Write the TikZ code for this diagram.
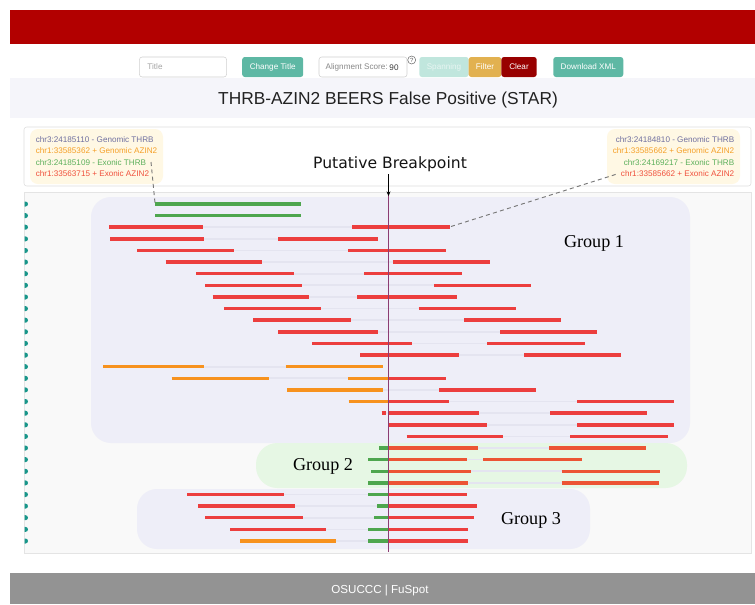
\documentclass[tikz,border=0pt]{standalone}
\usepackage{fontspec}
\setmainfont{Liberation Sans}
\newfontfamily\bpfont{DejaVu Sans}
\newfontfamily\grpfont{Liberation Serif}
\usetikzlibrary{arrows.meta}
\begin{document}
\begin{tikzpicture}[x=0.75pt,y=0.75pt,yscale=-1,xscale=1,
  rd/.style={draw={rgb,255:red,236;green,62;blue,62},line width=2.6pt},
  rdb/.style={draw={rgb,255:red,236;green,84;blue,52},line width=2.6pt},
  og/.style={draw={rgb,255:red,247;green,146;blue,30},line width=2.6pt},
  gn/.style={draw={rgb,255:red,78;green,166;blue,78},line width=2.6pt},
  gap/.style={draw={rgb,255:red,228;green,228;blue,240},line width=1.3pt},
  mk/.style={fill={rgb,255:red,24;green,150;blue,138}},
  lead/.style={draw={rgb,255:red,120;green,120;blue,120},line width=0.7pt,dash pattern={on 3pt off 2.5pt}},
  fld/.style={draw={rgb,255:red,208;green,208;blue,208},fill=white,rounded corners=2pt,minimum height=15pt,inner sep=0pt},
  btn/.style={rounded corners=2pt,minimum height=15pt,inner sep=0pt,text=white,font=\fontsize{6.1}{7}\selectfont},
  small/.style={font=\fontsize{6.1}{7}\selectfont,inner sep=0pt},
  infobox/.style={fill={rgb,255:red,255;green,248;blue,228},rounded corners=6pt,minimum width=99.75pt,minimum height=41.25pt,inner sep=0pt,font=\fontsize{6.1}{8.7}\selectfont},
  glabel/.style={font=\grpfont\fontsize{13.6}{15}\selectfont,inner sep=0pt}
]
\useasboundingbox (0,0) rectangle (755,604);

%Header bar
\fill [color={rgb, 255:red, 178; green, 0; blue, 0 }] (10,10) rectangle (755,44) ;

%Toolbar
\node (ttlbox) [fld,minimum width=65.3pt] at (183,67) {};
\node (ttltxt) [small,anchor=west,text={rgb,255:red,165;green,165;blue,165}] at ([xshift=6pt]ttlbox.west) {Title};
\node (chgbtn) [btn,fill={rgb,255:red,94;green,184;blue,164},minimum width=45.8pt] at (272.7,67) {Change Title};
\node (scorebox) [fld,minimum width=66pt] at (363,67) {};
\node (scoretxt) [small,anchor=west,text={rgb,255:red,135;green,135;blue,135}] at ([xshift=5pt]scorebox.west) {Alignment Score:};
\node (scoreval) [small,text={rgb,255:red,60;green,60;blue,60}] at (394,67.5) {90};
\node (help) [circle,draw={rgb,255:red,110;green,110;blue,110},line width=0.4pt,inner sep=0pt,minimum size=6pt,font=\fontsize{4.5}{5}\selectfont,text={rgb,255:red,90;green,90;blue,90}] at (411.7,60) {?};
\node (spanbtn) [btn,fill={rgb,255:red,192;green,230;blue,221},text={rgb,255:red,232;green,245;blue,242},minimum width=37pt] at (444,67) {Spanning};
\node (filtbtn) [btn,fill={rgb,255:red,226;green,177;blue,80},minimum width=24.5pt] at (485,67) {Filter};
\node (clrbtn) [btn,fill={rgb,255:red,152;green,0;blue,0},minimum width=26.5pt] at (519,67) {Clear};
\node (xmlbtn) [btn,fill={rgb,255:red,94;green,184;blue,164},minimum width=52.5pt] at (588.3,67) {Download XML};

%Title band
\fill [color={rgb, 255:red, 245; green, 245; blue, 250 }] (10,78) rectangle (755,118) ;
\node (title) [font=\fontsize{13}{15}\selectfont,text={rgb,255:red,34;green,34;blue,34}] at (388,100) {THRB-AZIN2 BEERS False Positive (STAR)};

%Info strip
\draw [draw={rgb, 255:red, 222; green, 222; blue, 222 },fill=white,rounded corners=2pt] (24,127) rectangle (751,186) ;
\node (linfo) [infobox,align=left] at (96.5,156.5) {\textcolor[RGB]{112,112,160}{chr3:24185110 - Genomic THRB}\\
\textcolor[RGB]{245,160,40}{chr1:33585362 + Genomic AZIN2}\\
\textcolor[RGB]{92,176,92}{chr3:24185109 - Exonic THRB}\\
\textcolor[RGB]{240,80,60}{chr1:33563715 + Exonic AZIN2}};
\node (rinfo) [infobox,align=right] at (673.5,156.5) {\textcolor[RGB]{112,112,160}{chr3:24184810 - Genomic THRB}\\
\textcolor[RGB]{245,160,40}{chr1:33585662 + Genomic AZIN2}\\
\textcolor[RGB]{92,176,92}{chr3:24169217 - Exonic THRB}\\
\textcolor[RGB]{240,80,60}{chr1:33585662 + Exonic AZIN2}};

%Reads panel
\draw [draw={rgb, 255:red, 228; green, 228; blue, 228 },fill={rgb, 255:red, 249; green, 249; blue, 249 }] (24,192) rectangle (751,553) ;
\coordinate (bptop) at (388.5,192);
\coordinate (bpbot) at (388.5,552);

%Groups
\fill [color={rgb, 255:red, 238; green, 238; blue, 248 },rounded corners=15pt] (91,197) rectangle (690,443) ;
\fill [color={rgb, 255:red, 230; green, 247; blue, 228 },rounded corners=16pt] (256,443) rectangle (687,488) ;
\fill [color={rgb, 255:red, 238; green, 238; blue, 248 },rounded corners=15pt] (137,489) rectangle (590,549) ;
\node (grp1) [glabel] at (594,243) {Group 1};
\node (grp2) [glabel] at (323,466) {Group 2};
\node (grp3) [glabel] at (531,520) {Group 3};

%Row markers
\foreach \y in {204,215.6,227.2,238.9,250.5,262.1,273.7,285.3,297,308.6,320.2,331.8,343.4,355.1,366.7,378.3,389.9,401.5,413.2,424.8,436.4,448,459.6,471.3,482.9,494.5,506.1,517.7,529.4,541}
  \fill [mk] (24.5,\y-2.5) -- (25.5,\y-2.5) arc [start angle=-90,end angle=90,radius=2.5] -- (24.5,\y+2.5) -- cycle ;

%Read rows
\draw [gn] (155,204) -- (300.7,204) ;
\draw [gn] (155,215.6) -- (300.7,215.6) ;
\draw [gap] (109,227.2) -- (450,227.2) ;
\draw [rd] (109,227.2) -- (203,227.2) (352,227.2) -- (450,227.2) ;
\draw [gap] (110,238.9) -- (377.7,238.9) ;
\draw [rd] (110,238.9) -- (203.7,238.9) (278,238.9) -- (377.7,238.9) ;
\draw [gap] (137,250.5) -- (446,250.5) ;
\draw [rd] (137,250.5) -- (234,250.5) (348,250.5) -- (446,250.5) ;
\draw [gap] (165.7,262.1) -- (490,262.1) ;
\draw [rd] (165.7,262.1) -- (261.7,262.1) (392.7,262.1) -- (490,262.1) ;
\draw [gap] (196,273.7) -- (462,273.7) ;
\draw [rd] (196,273.7) -- (294,273.7) (364,273.7) -- (462,273.7) ;
\draw [gap] (205,285.3) -- (531,285.3) ;
\draw [rd] (205,285.3) -- (301.7,285.3) (434,285.3) -- (531,285.3) ;
\draw [gap] (212.7,297) -- (456.7,297) ;
\draw [rd] (212.7,297) -- (309,297) (357,297) -- (456.7,297) ;
\draw [gap] (224,308.6) -- (516,308.6) ;
\draw [rd] (224,308.6) -- (320.7,308.6) (418.7,308.6) -- (516,308.6) ;
\draw [gap] (253,320.2) -- (561,320.2) ;
\draw [rd] (253,320.2) -- (350.7,320.2) (464,320.2) -- (561,320.2) ;
\draw [gap] (278,331.8) -- (596.7,331.8) ;
\draw [rd] (278,331.8) -- (377.7,331.8) (500,331.8) -- (596.7,331.8) ;
\draw [gap] (312,343.4) -- (584.7,343.4) ;
\draw [rd] (312,343.4) -- (412,343.4) (487,343.4) -- (584.7,343.4) ;
\draw [gap] (360,355.1) -- (621,355.1) ;
\draw [rd] (360,355.1) -- (459,355.1) (524,355.1) -- (621,355.1) ;
\draw [gap] (103,366.7) -- (382.7,366.7) ;
\draw [og] (103,366.7) -- (203.7,366.7) (285.7,366.7) -- (382.7,366.7) ;
\draw [gap] (171.7,378.3) -- (445.7,378.3) ;
\draw [og] (171.7,378.3) -- (268.7,378.3) (348,378.3) -- (388,378.3) ;
\draw [rd] (388,378.3) -- (445.7,378.3) ;
\draw [gap] (287,389.9) -- (536.3,389.9) ;
\draw [og] (287,389.9) -- (383,389.9) ;
\draw [rd] (439,389.9) -- (536.3,389.9) ;
\draw [gap] (348.7,401.5) -- (674.3,401.5) ;
\draw [og] (348.7,401.5) -- (388,401.5) ;
\draw [rd] (388,401.5) -- (449,401.5) (577,401.5) -- (674.3,401.5) ;
\draw [gap] (381.7,413.2) -- (647.3,413.2) ;
\draw [rd] (381.7,413.2) -- (386,413.2) (388,413.2) -- (479.3,413.2) (550,413.2) -- (647.3,413.2) ;
\draw [gap] (388,424.8) -- (674.3,424.8) ;
\draw [rd] (388,424.8) -- (487,424.8) (577,424.8) -- (674.3,424.8) ;
\draw [gap] (406.7,436.4) -- (667.7,436.4) ;
\draw [rd] (406.7,436.4) -- (503.3,436.4) (570,436.4) -- (667.7,436.4) ;
\draw [gap] (379,448) -- (646.3,448) ;
\draw [gn] (379,448) -- (388,448) ;
\draw [rdb] (388,448) -- (478.3,448) (549,448) -- (646.3,448) ;
\draw [gap] (368,459.6) -- (581.7,459.6) ;
\draw [gn] (368,459.6) -- (388,459.6) ;
\draw [rdb] (388,459.6) -- (466.7,459.6) (483,459.6) -- (581.7,459.6) ;
\draw [gap] (371,471.3) -- (659.7,471.3) ;
\draw [gn] (371,471.3) -- (388,471.3) ;
\draw [rdb] (388,471.3) -- (471.3,471.3) (561.7,471.3) -- (659.7,471.3) ;
\draw [gap] (368,482.9) -- (659,482.9) ;
\draw [gn] (368,482.9) -- (388,482.9) ;
\draw [rdb] (388,482.9) -- (467.7,482.9) (561.7,482.9) -- (659,482.9) ;
\draw [gap] (187.3,494.5) -- (466.7,494.5) ;
\draw [rd] (187.3,494.5) -- (284,494.5) (388,494.5) -- (466.7,494.5) ;
\draw [gn] (368,494.5) -- (388,494.5) ;
\draw [gap] (198,506.1) -- (476.7,506.1) ;
\draw [rd] (198,506.1) -- (294.7,506.1) (388,506.1) -- (476.7,506.1) ;
\draw [gn] (377,506.1) -- (388,506.1) ;
\draw [gap] (205,517.7) -- (473.7,517.7) ;
\draw [rd] (205,517.7) -- (303.3,517.7) (388,517.7) -- (473.7,517.7) ;
\draw [gn] (374,517.7) -- (388,517.7) ;
\draw [gap] (230,529.4) -- (467.7,529.4) ;
\draw [rd] (230,529.4) -- (326,529.4) (388,529.4) -- (467.7,529.4) ;
\draw [gn] (368,529.4) -- (388,529.4) ;
\draw [gap] (240,541) -- (467.7,541) ;
\draw [og] (240,541) -- (336,541) ;
\draw [gn] (368,541) -- (388,541) ;
\draw [rd] (388,541) -- (467.7,541) ;

%Breakpoint
\draw [color={rgb, 255:red, 140; green, 60; blue, 115 },line width=0.9pt] (bptop) -- (bpbot) ;
\node (bp) [font=\bpfont\fontsize{11.7}{13}\selectfont,text={rgb,255:red,20;green,20;blue,20},inner sep=2pt] at (390,164) {Putative Breakpoint};
\draw [-{Stealth[length=3.5pt,width=3pt]},line width=0.5pt] (bp.south -| bptop) -- ([yshift=3pt]bptop) ;

%Leader lines
\coordinate (lpin) at (151,162);
\coordinate (lread) at (155,203);
\coordinate (rpin) at (617,174);
\coordinate (rread) at (451,226.5);
\draw [lead] (lpin) -- (lread) ;
\draw [lead] (rread) -- (rpin) ;

%Footer
\fill [color={rgb, 255:red, 147; green, 147; blue, 147 }] (10,573) rectangle (755,604) ;
\node (foot) [font=\fontsize{8.7}{10}\selectfont,text=white] at (380,590.5) {OSUCCC | FuSpot};

\end{tikzpicture}
\end{document}
